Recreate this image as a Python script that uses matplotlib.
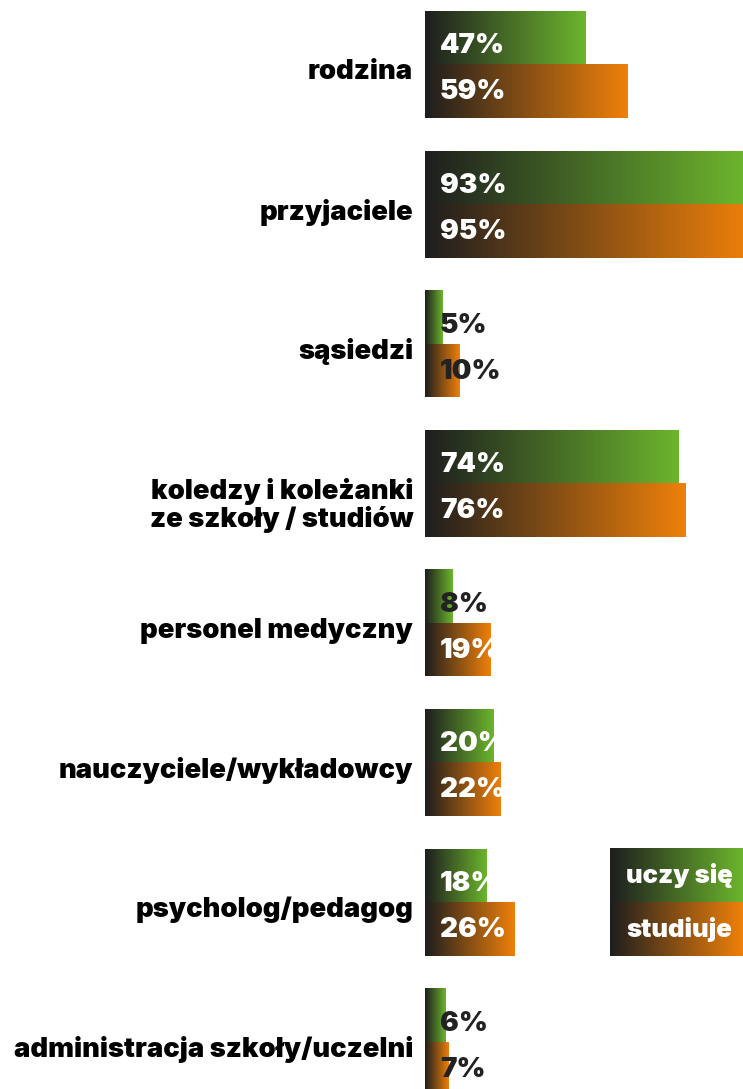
import numpy as np
import matplotlib.pyplot as plt
from matplotlib import font_manager as fm
from matplotlib.colors import LinearSegmentedColormap
from matplotlib.transforms import ScaledTranslation

# =========================
# DONNÉES
# =========================

kategorie = [
    "rodzina",
    "przyjaciele",
    "sąsiedzi",
    "koledzy i koleżanki\nze szkoły / studiów",
    "personel medyczny",
    "nauczyciele/wykładowcy",
    "psycholog/pedagog",
    "administracja szkoły/uczelni",
]
uczy_sie = [47, 93, 5, 74, 8, 20, 18, 6]
studiuje = [59, 95, 10, 76, 19, 22, 26, 7]
serie = ["uczy się", "studiuje"]

# =========================
# STYLE
# =========================


def najciezszy(rodziny):
    # le fichier le plus gras parmi les familles candidates
    best, bw = None, -1
    for f in fm.fontManager.ttflist:
        if f.name in rodziny and f.style == "normal":
            w = f.weight if isinstance(f.weight, int) else fm.weight_dict.get(f.weight, 400)
            if w > bw:
                best, bw = f, w
    return best, bw


wybor, waga = najciezszy(["Lato", "Roboto", "Open Sans", "Noto Sans", "Inter"])
FP = dict(fname=wybor.fname) if wybor else dict(family="DejaVu Sans", weight="bold")
CIEMNY = "#1e1e1e"
ZIELONY = "#6cb52d"
POMARANCZ = "#ef800a"

cmap_z = LinearSegmentedColormap.from_list("z", [CIEMNY, ZIELONY])
cmap_p = LinearSegmentedColormap.from_list("p", [CIEMNY, POMARANCZ])
grad = np.linspace(0, 1, 256).reshape(1, -1)


def fp(size):
    return fm.FontProperties(size=size, **FP)


W, H = 743, 1089
fig = plt.figure(figsize=(W / 100, H / 100), dpi=100)
ax = fig.add_axes([425 / W, 0, 318 / W, 1])

y = np.arange(len(kategorie))
h = 53.5 / 139.6


def gradient_bar(ax, bar, cmap):
    x0, y0 = bar.get_x(), bar.get_y()
    w, hh = bar.get_width(), bar.get_height()
    im = ax.imshow(grad, cmap=cmap, aspect="auto", extent=[x0, x0 + w, y0 + hh, y0],
                   interpolation="bicubic", zorder=2)
    im.set_clip_path(bar)


bars_z = ax.barh(y - h / 2, uczy_sie, height=h, color="none", zorder=1)
bars_p = ax.barh(y + h / 2, studiuje, height=h, color="none", zorder=1)

for b in bars_z:
    gradient_bar(ax, b, cmap_z)
for b in bars_p:
    gradient_bar(ax, b, cmap_p)

# Étiquettes des valeurs
for i, (vz, vp) in enumerate(zip(uczy_sie, studiuje)):
    for v, dy in ((vz, -18 / 139.6), (vp, 28 / 139.6)):
        kolor = "white" if v >= 15 else "#222222"
        ax.text(4.4, i + dy, f"{v}%", ha="left", va="center", color=kolor,
                fontproperties=fp(20), zorder=3)

ax.set_xlim(0, 318 / 3.425)
ax.set_ylim((H - 64.5) / 139.6, -64.5 / 139.6)
ax.set_yticks(y)
ax.set_yticklabels(kategorie, fontproperties=fp(19.7),
                   multialignment="right", linespacing=1.05)
ax.tick_params(axis="y", length=0, pad=8.5)
for lab in ax.get_yticklabels():
    dy_px = 19 if "\n" in lab.get_text() else 5
    lab.set_transform(lab.get_transform() + ScaledTranslation(0, -dy_px / 100, fig.dpi_scale_trans))
ax.set_xticks([])
for s in ax.spines.values():
    s.set_visible(False)

# =========================
# LÉGENDE
# =========================

lax = fig.add_axes([610 / W, 1 - 956 / H, 133 / W, 108 / H])
lax.set_xlim(0, 1)
lax.set_ylim(2, 0)
lax.imshow(grad, cmap=cmap_z, aspect="auto", extent=[0, 1, 1, 0], interpolation="bicubic")
lax.imshow(grad, cmap=cmap_p, aspect="auto", extent=[0, 1, 2, 1], interpolation="bicubic")
for k, nazwa in enumerate(serie):
    lax.text(0.52, k + 0.5, nazwa, ha="center", va="center", color="white",
             fontproperties=fp(18.5))
lax.axis("off")

fig.savefig("out.png", dpi=100)
